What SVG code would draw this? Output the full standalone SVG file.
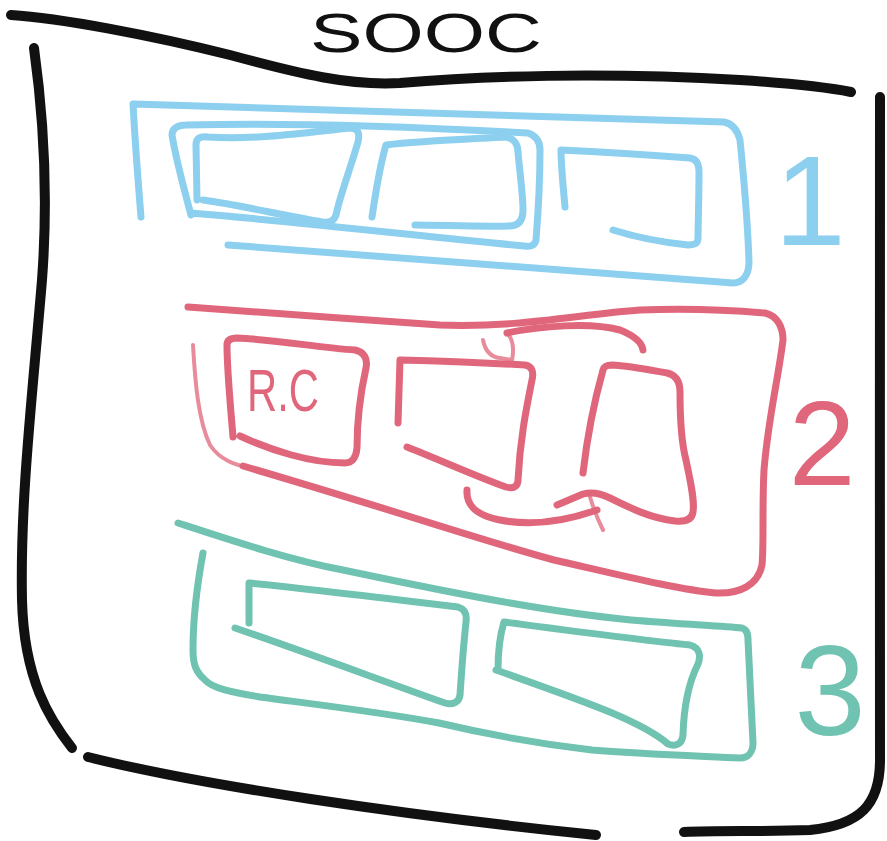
<svg xmlns="http://www.w3.org/2000/svg" width="887" height="841" viewBox="0 0 887 841">
<style>
.ln{fill:none;stroke-linecap:round;stroke-linejoin:round}
.blk{stroke:#111;stroke-width:10}
.blue{stroke:#8ccfee;stroke-width:7}
.red{stroke:#e0667b;stroke-width:7}
.grn{stroke:#70c2b1;stroke-width:7}
.thin{stroke-width:4;opacity:.75}
.num{font-family:"Liberation Sans",Arial,sans-serif;text-anchor:middle}
</style>
<rect width="887" height="841" fill="#fff"/>
<g id="frame">
<path class="ln blk" d="M11,15 C60,18 150,35 230,55 C300,74 350,86 400,83 C480,76 600,72 740,80 C800,84 830,88 851,92"/>
<path class="ln blk" d="M34,48 C44,120 48,200 42,280 C32,400 20,500 22,600 C24,680 50,720 72,748"/>
<path class="ln blk" stroke-width="8" d="M88,757 C200,785 400,815 596,835"/>
<path class="ln blk" stroke-width="8" d="M880,97 C882,300 878,550 880,760 C880,805 860,825 810,830 C760,832 720,830 684,832"/>
</g>
<g id="title">
<text x="310" y="52" font-family="'Liberation Sans',Arial,sans-serif" font-size="56" textLength="232" lengthAdjust="spacingAndGlyphs" fill="#111">SOOC</text>
</g>
<g id="section1">
<path class="ln blue" d="M141,217 C138,180 135,140 133,104 C300,108 500,116 724,122 C734,124 738,132 740,140 C744,180 748,230 749,262 C749,276 742,283 733,283 C560,270 400,258 228,245"/>
<path class="ln blue" d="M191,215 C183,185 176,160 172,135 C172,128 178,125 186,125 C300,122 420,127 528,133 C537,136 540,142 540,150 C540,180 538,215 536,240 C535,246 530,247 524,246 C420,236 300,222 191,213"/>
<g id="s1-box1"><path class="ln blue" d="M197,200 L196,145 C196,138 200,136 208,137 C260,140 310,132 350,128 C358,128 360,133 358,142 C350,170 340,195 336,215 C334,222 328,223 322,222 C280,215 240,205 203,200"/></g>
<g id="s1-box2"><path class="ln blue" d="M372,217 C376,190 380,165 386,145 C420,141 470,139 505,137 C514,138 518,144 518,152 C520,175 523,195 523,210 C523,222 517,226 509,226 C480,227 440,225 415,225"/></g>
<g id="s1-box3"><path class="ln blue" d="M565,207 C563,185 561,165 561,150 C600,152 650,155 690,158 C697,159 699,165 699,172 C699,200 698,225 698,238 C698,244 694,245 688,245 C660,242 635,237 613,230"/></g>
<text class="num" x="810" y="245" font-size="128" fill="#8ccfee">1</text>
</g>
<g id="section2">
<path class="ln red" d="M188,307 C260,312 360,320 440,325 C520,328 580,314 640,310 C690,308 730,310 765,313 C778,316 783,328 783,340 C778,380 768,420 764,470 C762,510 764,545 762,565 C758,585 740,594 716,593 C680,590 620,575 554,560 C480,540 400,512 243,466"/>
<path class="ln red thin" d="M193,345 C195,380 198,420 210,445 C220,460 235,465 250,468"/>
<g id="s2-pc">
<path class="ln red" d="M233,437 C230,400 227,370 227,345 C227,340 231,338 237,338 C280,340 320,348 355,350 C364,352 368,358 366,368 C360,395 357,420 357,448 C356,458 352,463 345,463 C310,463 270,450 240,436"/>
<text x="247" y="411" font-family="'Liberation Sans',Arial,sans-serif" font-size="60" textLength="72" lengthAdjust="spacingAndGlyphs" fill="#e0667b">R.C</text>
</g>
<g id="s2-box2"><path class="ln red" d="M398,423 L400,360 C440,361 490,363 525,365 C532,366 534,372 532,380 C526,410 520,440 518,480 C518,487 513,489 506,487 C480,478 440,460 407,447"/></g>
<g id="s2-box3"><path class="ln red" d="M583,473 C588,430 596,395 603,370 C604,366 608,365 612,365 C630,366 650,370 667,373 C676,375 680,382 680,392 C680,420 682,445 686,460 C690,480 695,500 693,512 C692,520 685,522 675,521 C650,518 630,508 610,498 C598,492 590,492 583,494 L557,505"/></g>
<g id="connectors">
<path class="ln red" d="M507,333 C540,326 590,322 620,330 C635,336 642,343 643,350"/>
<path class="ln red thin" d="M483,340 C485,350 490,357 500,358 L512,360 C514,350 513,340 508,334"/>
<path class="ln red" d="M467,490 C466,505 475,515 500,520 C530,526 560,523 597,510"/>
<path class="ln red thin" d="M590,497 C594,510 598,520 603,530"/>
</g>
<text class="num" x="822" y="485" font-size="120" fill="#e0667b">2</text>
</g>
<g id="section3">
<path class="ln grn" d="M178,523 C230,540 290,560 343,570 C400,582 440,590 477,597 C530,607 580,615 631,620 C680,624 720,626 742,628 C748,630 748,636 748,640 C750,680 752,720 753,743 C753,752 748,758 740,758 C700,756 640,754 592,750 C540,744 490,735 439,723 C380,712 320,705 260,697 C230,692 212,688 205,680 C196,672 193,665 193,650 C193,620 198,580 203,553"/>
<g id="s3-box1"><path class="ln grn" d="M249,623 L249,583 C300,588 400,600 458,607 C465,609 467,615 466,622 C463,650 461,680 460,695 C459,703 452,705 445,703 C380,680 300,650 235,628"/></g>
<g id="s3-box2"><path class="ln grn" d="M498,670 C498,650 500,635 504,622 C550,628 640,640 690,645 C700,648 701,656 698,664 C690,680 684,700 683,735 C682,744 676,747 668,744 C640,720 580,700 496,670"/></g>
<text class="num" x="830" y="735" font-size="128" fill="#70c2b1">3</text>
</g>
</svg>
